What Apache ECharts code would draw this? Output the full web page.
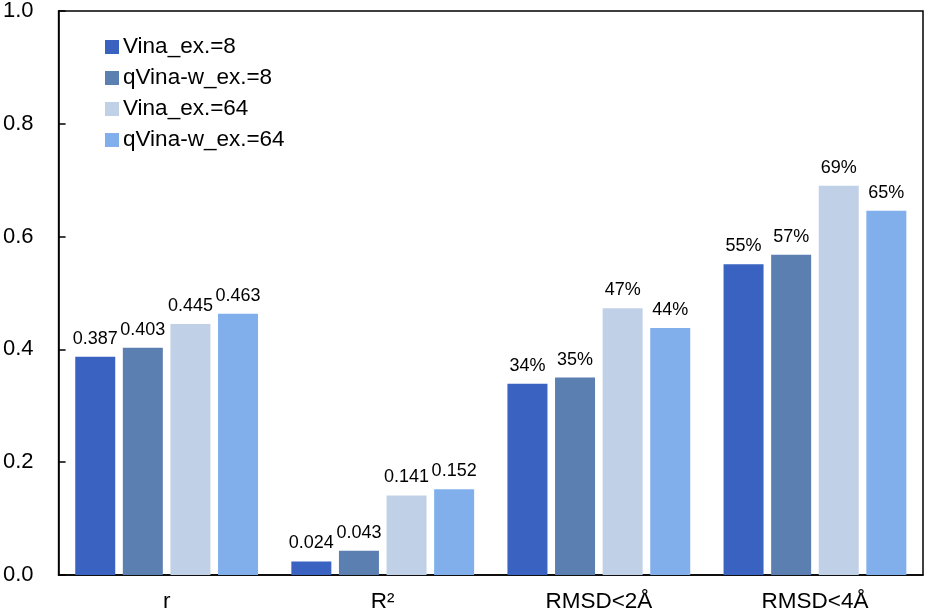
<!DOCTYPE html>
<html><head><meta charset="utf-8">
<script src="https://cdn.jsdelivr.net/npm/echarts@6/dist/echarts.min.js"></script>
<style>html,body{margin:0;padding:0;background:#fff}#c{width:931px;height:614px}</style>
</head><body><div id="c"></div>
<script>
const categories = ['r', 'R²', 'RMSD<2Å', 'RMSD<4Å'];
const seriesNames = ['Vina_ex.=8', 'qVina-w_ex.=8', 'Vina_ex.=64', 'qVina-w_ex.=64'];
const vina8 = [0.387, 0.024, 0.339, 0.551];
const qvina8 = [0.403, 0.043, 0.350, 0.568];
const vina64 = [0.445, 0.141, 0.473, 0.690];
const qvina64 = [0.463, 0.152, 0.438, 0.646];
const yTicks = [0, 0.2, 0.4, 0.6, 0.8, 1.0];
const colors = ['#3A62C0', '#5B7FB0', '#C0D1E7', '#80AFEC'];

const font = 'Liberation Sans, Arial, sans-serif';
const allData = [vina8, qvina8, vina64, qvina64];
const chart = echarts.init(document.getElementById('c'));
chart.setOption({
  animation: false,
  grid: { left: 58, right: 8, top: 10, bottom: 39, show: true, borderColor: '#000', borderWidth: 1.5, containLabel: false },
  legend: {
    orient: 'vertical', left: 100, top: 30, itemWidth: 14, itemHeight: 14, itemGap: 7,
    icon: 'rect',
    textStyle: { fontFamily: font, fontSize: 22.5, lineHeight: 24, color: '#000', padding: [0,0,0,-1] },
    data: seriesNames
  },
  xAxis: {
    type: 'category', data: categories,
    axisLine: { lineStyle: { color: '#000', width: 1.5 } },
    axisTick: { show: false },
    axisLabel: { fontFamily: font, fontSize: 22.5, color: '#000', margin: 15 }
  },
  yAxis: {
    type: 'value', min: 0, max: 1, interval: 0.2,
    axisLine: { show: true, lineStyle: { color: '#000', width: 1.5 } },
    axisTick: { show: true, inside: true, length: 7, lineStyle: { color: '#000', width: 1.5 } },
    splitLine: { show: false },
    axisLabel: { fontFamily: font, fontSize: 22, color: '#000', margin: 25,
      formatter: v => v.toFixed(1) }
  },
  series: allData.map((d, i) => ({
    name: seriesNames[i], type: 'bar', data: d,
    barWidth: 40, barGap: '19%',
    itemStyle: { color: colors[i] },
    label: {
      show: true, position: 'top', distance: 9,
      fontFamily: font, fontSize: 18, color: '#000',
      formatter: p => p.dataIndex < 2 ? p.value.toFixed(3) : Math.round(p.value * 100) + '%'
    }
  }))
});
</script></body></html>
